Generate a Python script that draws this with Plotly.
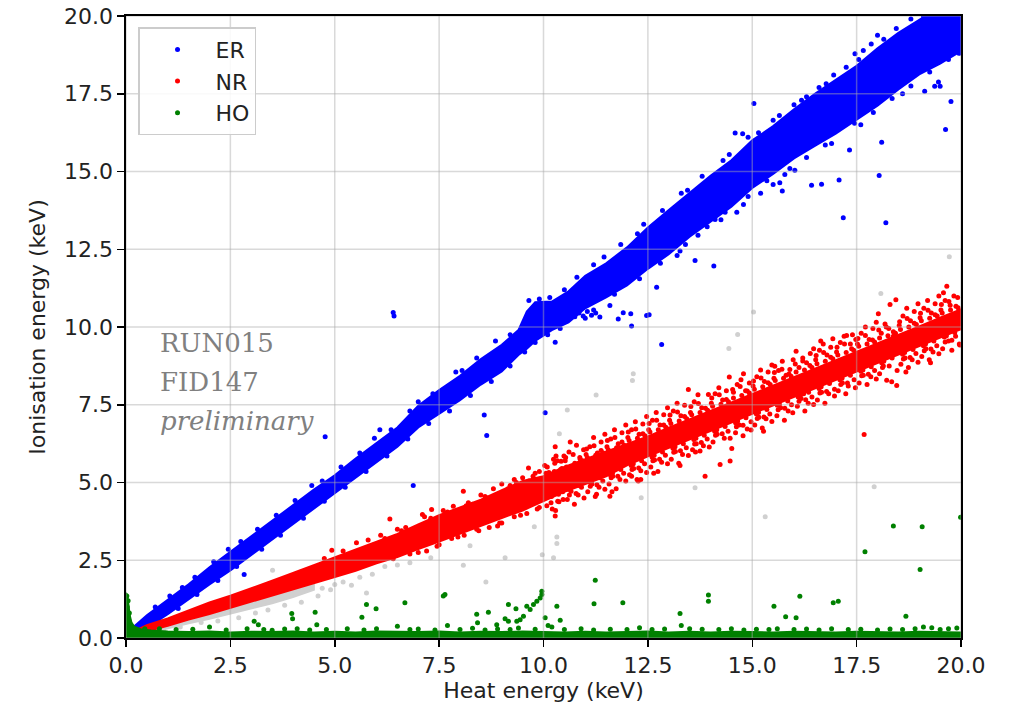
import plotly.graph_objects as go

# ---------------- data ----------------
tick_vals = [0.0, 2.5, 5.0, 7.5, 10.0, 12.5, 15.0, 17.5, 20.0]
tick_text = ["0.0", "2.5", "5.0", "7.5", "10.0", "12.5", "15.0", "17.5", "20.0"]

# dense cores of the populations (x, lower edge, upper edge)
er_band_x = [0.2, 0.5, 1.0, 1.5, 2.0, 2.5, 3.0, 3.5, 4.0, 4.5, 5.0, 5.5, 6.0, 6.5, 7.0, 7.5, 8.0, 8.5,
             9.0, 9.4, 9.6, 9.8, 10.2, 10.6, 11.0, 11.5, 12.0, 12.5, 13.0, 13.5, 14.0, 14.5,
             15.0, 15.5, 16.0, 16.5, 17.0, 17.5, 18.0, 18.5, 19.0, 19.5, 20.0]
er_band_lo = [0.12, 0.33, 0.77, 1.25, 1.72, 2.17, 2.67, 3.15, 3.65, 4.15, 4.67, 5.15, 5.65, 6.15, 6.77,
              7.2, 7.65, 8.15, 8.57, 9.1, 9.3, 9.55, 9.9, 10.15, 10.6, 10.95, 11.34, 11.87, 12.34,
              12.9, 13.37, 13.87, 14.47, 14.92, 15.42, 15.82, 16.22, 16.67, 17.12, 17.64, 18.12,
              18.47, 18.87]
er_band_hi = [0.38, 0.73, 1.23, 1.73, 2.27, 2.77, 3.27, 3.77, 4.27, 4.77, 5.23, 5.77, 6.27, 6.77, 7.47,
              7.97, 8.43, 8.97, 9.43, 9.9, 10.5, 10.8, 10.82, 11.15, 11.65, 12.05, 12.56, 13.2,
              13.76, 14.3, 14.86, 15.36, 16.0, 16.46, 17.0, 17.5, 17.96, 18.4, 18.96, 19.46, 19.88,
              20.28, 20.68]

nr_band_x = [0.2, 0.5, 1.0, 1.5, 2.0, 2.5, 3.0, 3.5, 4.0, 4.5, 5.0, 5.5, 6.0, 6.5, 7.0, 7.5, 8.0, 8.5,
             9.0, 9.5, 10.0, 10.5, 11.0, 11.5, 12.0, 12.5, 13.0, 13.5, 14.0, 14.5, 15.0, 15.5, 16.0,
             16.5, 17.0, 17.5, 18.0, 18.5, 19.0, 19.5, 20.0]
nr_band_lo = [0.1, 0.22, 0.39, 0.59, 0.77, 0.95, 1.16, 1.36, 1.56, 1.76, 1.96, 2.16, 2.4, 2.6, 2.86, 3.1,
              3.36, 3.6, 3.86, 4.1, 4.4, 4.7, 4.95, 5.2, 5.55, 5.84, 6.12, 6.39, 6.66, 6.93, 7.21, 7.48,
              7.75, 8.02, 8.3, 8.57, 8.84, 9.11, 9.38, 9.66, 9.93]
nr_band_hi = [0.22, 0.41, 0.63, 0.88, 1.14, 1.36, 1.59, 1.84, 2.09, 2.34, 2.6, 2.85, 3.1, 3.35, 3.65, 3.95,
              4.2, 4.45, 4.75, 5.05, 5.2, 5.5, 5.75, 6.0, 6.25, 6.48, 6.76, 7.03, 7.3, 7.57, 7.85, 8.12,
              8.39, 8.66, 8.94, 9.21, 9.48, 9.75, 10.02, 10.3, 10.57]

gray_band_x = [0.4, 1.0, 1.5, 2.0, 2.5, 3.0, 3.5, 4.0, 4.5]
gray_band_lo = [0.12, 0.3, 0.47, 0.62, 0.78, 0.95, 1.12, 1.32, 1.55]
gray_band_hi = [0.2, 0.43, 0.62, 0.8, 0.98, 1.18, 1.38, 1.58, 1.8]

ho_band_x = [0.0, 0.0, 0.03, 0.06, 0.09, 0.13, 0.2, 0.35, 0.6, 1.0, 1.5, 2.0, 2.5, 3.0, 3.5, 4.0, 4.5,
             5.0, 5.5, 6.0, 6.5, 7.0, 7.5, 8.0, 8.5, 9.0, 9.5, 10.0, 10.5, 11.0, 11.5, 12.0, 12.5,
             13.0, 13.5, 14.0, 14.5, 15.0, 15.5, 16.0, 16.5, 17.0, 17.5, 18.0, 18.5, 19.0, 19.5, 20.0, 20.0]
ho_band_hi = [0.0, 1.45, 1.38, 1.05, 0.72, 0.5, 0.36, 0.28, 0.24, 0.21, 0.19, 0.21, 0.18, 0.2, 0.19,
              0.21, 0.18, 0.2, 0.18, 0.21, 0.2, 0.19, 0.21, 0.18, 0.2, 0.19, 0.21, 0.2, 0.18, 0.2,
              0.18, 0.19, 0.21, 0.18, 0.2, 0.18, 0.2, 0.19, 0.18, 0.2, 0.19, 0.18, 0.2, 0.19, 0.18,
              0.2, 0.19, 0.18, 0.0]

# individual events
er_points = [
    # upper edge
    (0.7, 1.0), (1.05, 1.35), (1.35, 1.62), (1.65, 1.95), (2.1, 2.45), (2.45, 2.85), (2.75, 3.1),
    (3.15, 3.5), (3.6, 3.95), (4.05, 4.42), (4.45, 4.9), (4.7, 5.05), (5.15, 5.5), (5.6, 5.95),
    (5.95, 6.42), (6.35, 6.7), (6.8, 7.3), (7.0, 7.6), (7.35, 7.85), (7.9, 8.55), (8.05, 8.6),
    (8.4, 9.0), (8.85, 9.55), (9.2, 9.75), (9.65, 10.85), (9.9, 10.9), (10.15, 10.95), (10.5, 11.2),
    (10.8, 11.6), (11.2, 12.0), (11.45, 12.25), (11.85, 12.65), (12.25, 13.0), (12.4, 13.3),
    (12.85, 13.75), (13.3, 14.3), (13.45, 14.4), (13.8, 14.85), (14.3, 15.35), (14.45, 15.55),
    (14.9, 16.1), (15.15, 16.25), (15.5, 16.65), (15.65, 16.8), (16.0, 17.15), (16.3, 17.4),
    (16.6, 17.7), (16.95, 18.1), (17.25, 18.35), (17.55, 18.6), (17.85, 19.1), (18.15, 19.25),
    (18.45, 19.6), (18.8, 19.9), (19.1, 20.0),
    (14.59, 16.24), (14.77, 16.21), (15.04, 17.19), (16.18, 17.29), (16.77, 17.82), (17.46, 18.79),
    (17.66, 18.89), (18.0, 19.38),
    # lower edge
    (0.8, 0.55), (1.25, 0.95), (1.7, 1.4), (2.2, 1.85), (2.65, 2.3), (3.25, 2.85), (3.7, 3.3),
    (4.25, 3.85), (4.75, 4.4), (5.25, 4.85), (5.75, 5.35), (6.25, 5.85), (6.75, 6.4), (7.25, 6.9),
    (7.75, 7.3), (8.25, 7.8), (8.75, 8.25), (9.2, 8.75), (9.55, 9.2), (9.8, 9.5), (10.1, 9.75),
    (10.4, 9.95), (11.7, 11.05), (12.3, 11.55), (12.8, 12.05), (13.4, 12.65), (13.7, 12.95),
    (14.25, 13.45), (14.9, 14.2), (15.35, 14.7), (15.9, 15.1), (16.3, 15.45), (16.75, 15.85),
    (17.45, 16.55), (17.9, 16.9), (18.35, 17.35), (18.8, 17.75), (19.25, 18.2), (19.7, 18.6),
    (19.95, 18.8),
    # 10.37 keV line extension
    (10.55, 10.3), (10.65, 10.42), (10.75, 10.33), (10.85, 10.45), (10.95, 10.35), (11.05, 10.5),
    (11.15, 10.38), (11.25, 10.45), (11.35, 10.32), (11.0, 10.28), (11.2, 10.55), (11.59, 10.69),
    (11.79, 10.26), (11.91, 10.46), (12.09, 10.43), (12.11, 10.03), (12.47, 10.37), (12.53, 10.39),
    # isolated events below the band
    (12.71, 11.28), (13.27, 12.44), (13.63, 12.14), (14.08, 11.96), (13.92, 13.22), (14.11, 13.46),
    (14.35, 13.69), (14.63, 13.69), (14.79, 13.94), (15.5, 14.58), (15.66, 14.64), (15.72, 14.37),
    (15.78, 14.9), (16.02, 15.04), (16.42, 14.56), (16.66, 14.59), (17.08, 14.73), (17.33, 15.69),
    (18.04, 14.87), (18.1, 15.94), (18.2, 13.35), (17.18, 13.51), (19.13, 17.58), (19.37, 17.74),
    (19.46, 17.88), (19.5, 17.74), (19.63, 16.35), (19.76, 17.25), (16.9, 15.9), (17.6, 16.5),
    (18.6, 17.5), (15.2, 14.3), (13.2, 12.3),
    (6.4, 10.47), (6.42, 10.35), (4.77, 6.47), (2.83, 2.04), (6.88, 4.9), (6.08, 6.7), (8.58, 7.17),
    (8.64, 6.51), (10.04, 7.24), (10.28, 9.51), (12.83, 9.44),
]

nr_points = [
    # 5-10 keV edges
    (4.75, 2.56), (4.93, 2.82), (5.2, 2.8), (5.52, 3.06), (5.8, 3.15), (6.1, 3.3), (6.32, 3.83),
    (6.5, 3.5), (6.7, 3.55), (7.1, 3.97), (7.32, 4.13), (7.6, 4.1), (7.84, 4.24), (8.08, 4.72),
    (8.2, 4.35), (8.5, 4.6), (8.8, 4.8), (9.0, 4.95), (9.3, 5.1), (9.64, 5.47), (9.8, 5.3),
    (6.2, 3.2), (6.6, 3.45), (7.3, 3.85), (7.7, 4.05), (8.3, 4.3), (8.6, 4.55), (9.2, 4.9),
    (9.5, 5.15), (9.9, 5.35), (6.4, 2.55), (6.8, 2.7), (7.0, 2.75), (7.2, 2.8), (7.5, 3.0),
    (7.8, 3.2), (8.1, 3.3), (8.4, 3.5), (8.7, 3.55), (8.9, 3.6), (9.0, 3.7), (9.3, 3.9), (9.6, 4.0),
    (9.9, 4.2), (10.28, 6.15), (10.3, 5.85), (10.28, 3.92), (11.59, 4.56), (12.11, 5.2), (12.33, 5.1),
    (7.15, 3.9), (7.45, 2.95), (7.65, 4.0), (7.95, 3.25), (8.15, 4.25), (8.45, 3.45), (8.65, 4.5),
    (8.95, 3.7), (9.15, 4.8), (9.45, 3.95), (9.65, 5.05), (9.85, 4.15), (9.75, 5.2), (9.35, 5.0),
    # 10-20 keV cloud, outer
    (10.03, 5.55), (10.08, 4.25), (10.13, 5.32), (10.19, 4.55), (10.24, 5.75), (10.29, 4.1),
    (10.33, 5.7), (10.37, 4.38), (10.41, 5.42), (10.46, 4.7), (10.49, 5.85), (10.21, 4.15),
    (10.52, 5.7), (10.57, 4.45), (10.61, 5.98), (10.66, 4.72), (10.7, 5.52), (10.74, 4.3),
    (10.79, 6.2), (10.83, 4.6), (10.87, 5.8), (10.91, 4.85), (10.96, 6.05), (10.64, 6.3),
    (11.02, 5.9), (11.06, 4.7), (11.11, 6.15), (11.16, 4.95), (11.2, 6.45), (11.24, 4.55),
    (11.29, 5.95), (11.33, 4.85), (11.38, 6.3), (11.42, 5.05), (11.47, 6.55), (11.27, 4.62),
    (11.52, 6.15), (11.57, 4.95), (11.61, 6.4), (11.66, 5.2), (11.7, 6.7), (11.74, 4.8),
    (11.79, 6.25), (11.83, 5.1), (11.88, 6.6), (11.92, 5.3), (11.97, 6.85), (11.64, 4.7),
    (12.02, 6.45), (12.06, 5.25), (12.11, 6.7), (12.16, 5.45), (12.2, 6.95), (12.24, 5.1),
    (12.29, 6.55), (12.33, 5.38), (12.38, 6.88), (12.42, 5.6), (12.47, 7.12), (12.27, 5.05),
    (12.52, 6.7), (12.57, 5.5), (12.61, 7.0), (12.66, 5.72), (12.7, 7.25), (12.74, 5.35),
    (12.79, 6.85), (12.83, 5.65), (12.88, 7.18), (12.92, 5.88), (12.97, 7.4), (12.64, 5.3),
    (13.02, 7.0), (13.06, 5.75), (13.11, 7.3), (13.16, 6.0), (13.2, 7.55), (13.24, 5.62),
    (13.29, 7.15), (13.33, 5.9), (13.38, 7.48), (13.42, 6.12), (13.47, 7.99), (13.27, 5.55),
    (13.52, 7.25), (13.57, 6.05), (13.61, 7.6), (13.66, 6.25), (13.7, 7.82), (13.75, 6.01),
    (13.79, 7.4), (13.83, 6.18), (13.87, 5.2), (13.92, 6.4), (13.95, 7.83), (13.64, 5.98),
    (14.02, 7.55), (14.06, 6.3), (14.11, 7.85), (14.16, 6.55), (14.2, 8.05), (14.23, 5.58),
    (14.29, 7.65), (14.33, 6.42), (14.38, 7.95), (14.42, 6.65), (14.45, 8.39), (14.47, 5.69),
    (14.51, 6.09), (14.55, 7.9), (14.6, 6.6), (14.64, 8.15), (14.69, 6.85), (14.73, 8.3),
    (14.78, 6.5), (14.79, 8.5), (14.84, 7.95), (14.88, 6.72), (14.93, 8.2), (14.97, 6.95),
    (15.02, 8.1), (15.06, 6.85), (15.11, 8.4), (15.16, 7.1), (15.2, 8.62), (15.24, 6.75),
    (15.29, 8.25), (15.33, 7.05), (15.38, 8.55), (15.42, 7.2), (15.47, 8.78), (15.27, 6.65),
    (15.52, 8.35), (15.54, 8.74), (15.59, 7.15), (15.63, 8.6), (15.68, 7.4), (15.72, 8.9),
    (15.77, 7.0), (15.81, 8.45), (15.86, 7.3), (15.9, 8.63), (15.94, 7.5), (15.98, 8.95),
    (16.05, 9.22), (16.08, 7.45), (16.12, 8.7), (16.17, 7.7), (16.21, 9.0), (16.26, 7.3),
    (16.3, 8.85), (16.34, 7.55), (16.39, 9.15), (16.43, 7.75), (16.47, 9.3), (16.23, 7.85),
    (16.52, 8.95), (16.56, 7.65), (16.61, 9.25), (16.66, 7.9), (16.7, 9.45), (16.74, 7.55),
    (16.79, 9.1), (16.83, 7.85), (16.88, 9.35), (16.93, 9.62), (16.97, 8.0), (16.64, 9.55),
    (17.02, 9.2), (17.06, 7.95), (17.11, 9.5), (17.16, 8.2), (17.2, 9.7), (17.24, 7.85),
    (17.26, 9.73), (17.3, 8.1), (17.35, 9.45), (17.4, 9.75), (17.44, 8.3), (17.48, 9.6),
    (17.52, 9.45), (17.56, 8.2), (17.61, 9.8), (17.66, 8.45), (17.68, 6.54), (17.71, 10.0),
    (17.75, 8.15), (17.8, 9.6), (17.84, 8.4), (17.89, 9.95), (17.93, 8.6), (17.97, 10.15),
    (18.02, 10.43), (18.05, 8.5), (18.09, 9.8), (18.14, 8.75), (18.18, 10.1), (18.22, 8.29),
    (18.27, 9.95), (18.3, 10.72), (18.34, 8.24), (18.38, 9.7), (18.44, 10.88), (18.46, 8.12),
    (18.52, 10.05), (18.56, 8.8), (18.61, 10.35), (18.66, 9.0), (18.7, 10.6), (18.74, 8.7),
    (18.79, 10.2), (18.83, 8.95), (18.88, 10.5), (18.92, 9.15), (18.97, 10.75), (18.68, 8.55),
    (19.02, 10.3), (19.06, 9.05), (19.11, 10.6), (19.16, 9.3), (19.2, 10.85), (19.24, 8.95),
    (19.29, 10.45), (19.33, 9.2), (19.38, 10.75), (19.42, 9.4), (19.47, 11.0), (19.27, 8.85),
    (19.52, 10.55), (19.56, 9.3), (19.58, 11.1), (19.62, 10.85), (19.66, 11.31), (19.7, 9.55),
    (19.74, 10.7), (19.78, 9.25), (19.83, 11.0), (19.87, 9.7), (19.92, 10.95), (19.96, 9.45),
    # 10-20 keV cloud, middle
    (10.09, 5.5), (10.18, 4.35), (10.27, 5.62), (10.34, 4.4), (10.42, 5.68), (10.47, 4.45),
    (10.53, 5.8), (10.62, 4.6), (10.71, 5.9), (10.78, 4.65), (10.88, 5.75), (10.97, 4.5),
    (11.03, 6.08), (11.12, 4.88), (11.21, 6.18), (11.28, 4.93), (11.38, 6.03), (11.47, 4.78),
    (11.53, 6.35), (11.62, 5.15), (11.71, 6.45), (11.78, 5.2), (11.88, 6.3), (11.97, 5.05),
    (12.03, 6.62), (12.12, 5.42), (12.21, 6.72), (12.28, 5.47), (12.38, 6.57), (12.47, 5.32),
    (12.53, 6.9), (12.62, 5.7), (12.71, 7.0), (12.78, 5.75), (12.88, 6.85), (12.97, 5.6),
    (13.03, 7.17), (13.12, 5.97), (13.21, 7.27), (13.28, 6.02), (13.38, 7.12), (13.47, 5.87),
    (13.53, 7.44), (13.62, 6.24), (13.71, 7.54), (13.78, 6.29), (13.88, 7.39), (13.97, 6.14),
    (14.03, 7.72), (14.12, 6.52), (14.21, 7.82), (14.28, 6.57), (14.38, 7.67), (14.47, 6.42),
    (14.53, 7.99), (14.62, 6.79), (14.71, 8.09), (14.78, 6.84), (14.88, 7.94), (14.97, 6.69),
    (15.03, 8.26), (15.12, 7.06), (15.21, 8.36), (15.28, 7.11), (15.38, 8.21), (15.47, 6.96),
    (15.53, 8.54), (15.62, 7.34), (15.71, 8.64), (15.78, 7.39), (15.88, 8.49), (15.97, 7.24),
    (16.03, 8.81), (16.12, 7.61), (16.21, 8.91), (16.28, 7.66), (16.38, 8.76), (16.47, 7.51),
    (16.53, 9.08), (16.62, 7.88), (16.71, 9.18), (16.78, 7.93), (16.88, 9.03), (16.97, 7.78),
    (17.03, 9.35), (17.12, 8.15), (17.21, 9.45), (17.28, 8.2), (17.38, 9.3), (17.47, 8.05),
    (17.53, 9.63), (17.62, 8.43), (17.71, 9.73), (17.78, 8.48), (17.88, 9.58), (17.97, 8.33),
    (18.03, 9.9), (18.12, 8.7), (18.21, 10.0), (18.28, 8.75), (18.38, 9.85), (18.47, 8.6),
    (18.53, 10.17), (18.62, 8.97), (18.71, 10.27), (18.78, 9.02), (18.88, 10.12), (18.97, 8.87),
    (19.03, 10.44), (19.12, 9.24), (19.21, 10.54), (19.28, 9.29), (19.38, 10.39), (19.47, 9.14),
    (19.53, 10.72), (19.62, 9.52), (19.71, 10.82), (19.78, 9.57), (19.88, 10.67), (19.97, 9.42),
    # 10-20 keV cloud, inner
    (10.06, 5.3), (10.16, 4.55), (10.26, 5.35), (10.36, 4.62), (10.44, 5.45), (10.11, 4.6),
    (10.55, 5.5), (10.65, 4.85), (10.75, 5.62), (10.85, 4.9), (10.93, 5.7), (10.6, 4.78),
    (11.05, 5.8), (11.15, 5.05), (11.25, 5.88), (11.35, 5.15), (11.43, 5.95), (11.1, 5.02),
    (11.55, 6.05), (11.65, 5.3), (11.75, 6.12), (11.85, 5.42), (11.93, 6.2), (11.6, 5.25),
    (12.05, 6.35), (12.15, 5.6), (12.25, 6.42), (12.35, 5.7), (12.43, 6.5), (12.1, 5.55),
    (12.55, 6.62), (12.65, 5.88), (12.75, 6.7), (12.85, 5.98), (12.93, 6.78), (12.6, 5.82),
    (13.05, 6.9), (13.15, 6.15), (13.25, 6.98), (13.35, 6.25), (13.43, 7.05), (13.1, 6.1),
    (13.55, 7.18), (13.65, 6.42), (13.75, 7.25), (13.85, 6.52), (13.93, 7.32), (13.6, 6.38),
    (14.05, 7.45), (14.15, 6.7), (14.25, 7.52), (14.35, 6.8), (14.43, 7.6), (14.1, 6.65),
    (14.55, 7.72), (14.65, 6.98), (14.75, 7.8), (14.85, 7.08), (14.93, 7.88), (14.6, 6.92),
    (15.05, 8.0), (15.15, 7.25), (15.25, 8.08), (15.35, 7.35), (15.43, 8.15), (15.1, 7.2),
    (15.55, 8.28), (15.65, 7.52), (15.75, 8.35), (15.85, 7.62), (15.93, 8.42), (15.6, 7.48),
    (16.05, 8.55), (16.15, 7.8), (16.25, 8.62), (16.35, 7.9), (16.43, 8.7), (16.1, 7.75),
    (16.55, 8.82), (16.65, 8.08), (16.75, 8.9), (16.85, 8.18), (16.93, 8.98), (16.6, 8.02),
    (17.05, 9.1), (17.15, 8.35), (17.25, 9.18), (17.35, 8.45), (17.43, 9.25), (17.1, 8.3),
    (17.55, 9.38), (17.65, 8.62), (17.75, 9.45), (17.85, 8.72), (17.93, 9.52), (17.6, 8.58),
    (18.05, 9.65), (18.15, 8.9), (18.25, 9.72), (18.35, 9.0), (18.43, 9.8), (18.1, 8.85),
    (18.55, 9.92), (18.65, 9.18), (18.75, 10.0), (18.85, 9.28), (18.93, 10.08), (18.6, 9.12),
    (19.05, 10.2), (19.15, 9.45), (19.25, 10.28), (19.35, 9.55), (19.43, 10.35), (19.1, 9.4),
    (19.55, 10.45), (19.65, 9.72), (19.75, 10.55), (19.85, 9.82), (19.93, 10.62), (19.6, 9.68),
]

ho_points = [
    (0.02, 1.35), (0.05, 1.2), (0.03, 1.0), (0.08, 0.8), (0.06, 0.6), (0.1, 0.45), (0.12, 0.35),
    (0.45, 0.3), (0.8, 0.3), (1.2, 0.27), (1.6, 0.28), (2.0, 0.35), (2.4, 0.26), (2.9, 0.3),
    (3.3, 0.27), (3.5, 0.25), (3.8, 0.29), (4.1, 0.3), (4.4, 0.26), (4.8, 0.27), (5.3, 0.3),
    (5.7, 0.26), (6.0, 0.3), (6.5, 0.38), (6.8, 0.27), (7.0, 0.29), (7.4, 0.26), (7.7, 0.4),
    (8.0, 0.27), (8.3, 0.31), (8.6, 0.26), (8.9, 0.29), (9.2, 0.27), (9.4, 0.32), (9.8, 0.28),
    (10.2, 0.35), (10.5, 0.27), (10.9, 0.3), (11.2, 0.26), (11.6, 0.28), (12.0, 0.27), (12.3, 0.33),
    (12.6, 0.27), (12.9, 0.29), (13.3, 0.4), (13.5, 0.3), (13.8, 0.28), (14.2, 0.27), (14.5, 0.3),
    (14.8, 0.26), (15.1, 0.28), (15.4, 0.27), (15.6, 0.3), (16.0, 0.27), (16.3, 0.29), (16.6, 0.26),
    (16.9, 0.3), (17.3, 0.27), (17.6, 0.28), (18.0, 0.26), (18.3, 0.29), (18.6, 0.27), (18.9, 0.3),
    (19.1, 0.35), (19.3, 0.33), (19.5, 0.27), (19.7, 0.3), (19.9, 0.32),
    (3.07, 0.54), (3.17, 0.43), (3.97, 0.79), (3.99, 0.62), (4.53, 0.83), (4.57, 0.43), (5.65, 0.67),
    (5.76, 1.08), (5.99, 0.94), (6.68, 1.13), (7.6, 1.35), (7.64, 1.4), (8.4, 0.76), (8.42, 0.49),
    (8.68, 0.83), (8.88, 0.43), (9.08, 0.62), (9.16, 0.54), (9.16, 1.08), (9.34, 0.94), (9.36, 0.54),
    (9.44, 0.59), (9.52, 0.7), (9.6, 1.02), (9.68, 0.92), (9.76, 1.08), (9.84, 1.18), (9.92, 1.29),
    (9.96, 1.4), (9.96, 1.5), (10.04, 0.65), (10.11, 0.4), (10.32, 1.02), (10.4, 0.57),
    (11.21, 1.1), (11.24, 1.86), (11.9, 1.13), (13.27, 0.79), (13.95, 1.18), (13.95, 1.38),
    (15.52, 1.02), (15.8, 0.68), (16.05, 0.65), (16.14, 1.34), (16.94, 1.13), (17.06, 1.18),
    (17.7, 2.77), (18.68, 0.7), (19.02, 2.2), (18.38, 3.6), (19.07, 3.58), (19.99, 3.88),
]

gray_points = [
    (0.9, 0.25), (1.3, 0.35), (1.8, 0.5), (2.2, 0.55), (2.7, 0.65), (3.1, 0.8), (3.4, 0.9), (3.8, 1.05),
    (4.2, 1.15), (4.6, 1.35), (4.7, 1.6), (4.9, 1.55), (5.0, 1.72), (5.2, 1.8), (5.4, 1.7),
    (5.6, 1.95), (5.76, 1.45), (5.9, 2.05), (6.2, 2.3), (6.5, 2.35), (6.8, 2.42), (3.51, 2.18),
    (2.9, 1.45), (4.3, 1.9), (7.3, 2.58), (8.08, 2.34), (8.62, 1.8), (9.08, 2.58), (9.97, 2.68),
    (10.24, 2.58), (10.32, 3.25), (10.32, 3.04), (9.78, 3.58), (8.24, 2.97), (12.34, 4.51),
    (13.63, 4.83), (17.92, 4.86), (15.31, 3.9), (10.38, 6.57), (10.57, 7.33), (11.26, 7.81),
    (12.13, 8.28), (12.15, 8.5), (14.44, 9.31), (14.65, 9.76), (15.03, 10.48), (18.08, 11.08),
    (19.72, 12.26),
]

labels_text = ["RUN015", "FID147", "<i>preliminary</i>"]
labels_x = [0.77, 0.77, 0.77]
labels_y = [9.5, 8.24, 6.99]

# ---------------- styling ----------------
C_ER, C_NR, C_HO, C_GR = "#0000ff", "#ff0000", "#008000", "#d0d0d0"
MS = 5
FONT = "DejaVu Sans"


def band_trace(x, lo, hi, color):
    return go.Scatter(x=list(x) + list(x)[::-1], y=list(hi) + list(lo)[::-1], mode="lines",
                      fill="toself", fillcolor=color, line=dict(color=color, width=2),
                      hoverinfo="skip", showlegend=False)


def pts(points, name, color, legend=True):
    return go.Scatter(x=[p[0] for p in points], y=[p[1] for p in points], mode="markers",
                      name=name, legendgroup=name, showlegend=legend,
                      marker=dict(color=color, size=MS, line=dict(width=0)))


fig = go.Figure()
fig.add_trace(band_trace(gray_band_x, gray_band_lo, gray_band_hi, C_GR))
fig.add_trace(pts(gray_points, "all", C_GR, legend=False))
fig.add_trace(band_trace(er_band_x, er_band_lo, er_band_hi, C_ER))
fig.add_trace(pts(er_points, "ER", C_ER))
fig.add_trace(band_trace(nr_band_x, nr_band_lo, nr_band_hi, C_NR))
fig.add_trace(pts(nr_points, "NR", C_NR))
fig.add_trace(band_trace(ho_band_x, [0.0] * len(ho_band_x), ho_band_hi, C_HO))
fig.add_trace(pts(ho_points, "HO", C_HO))

grid_line = dict(color="rgba(170,170,170,0.45)", width=1.5)
for v in tick_vals:
    fig.add_shape(type="line", xref="x", yref="paper", x0=v, x1=v, y0=0, y1=1, line=grid_line,
                  layer="above")
    fig.add_shape(type="line", xref="paper", yref="y", x0=0, x1=1, y0=v, y1=v, line=grid_line,
                  layer="above")

for t, x, y in zip(labels_text, labels_x, labels_y):
    fig.add_annotation(x=x, y=y, text=t, showarrow=False, xanchor="left", yanchor="middle",
                       font=dict(family="DejaVu Serif", size=26, color="#808080"))

axis_common = dict(range=[0, 20], tickmode="array", tickvals=tick_vals, ticktext=tick_text,
                   showgrid=False, zeroline=False, showline=True, linecolor="black", linewidth=1.6,
                   mirror=True, ticks="outside", ticklen=7, tickwidth=1.5, tickcolor="black",
                   automargin=False, ticklabeloverflow="allow",
                   tickfont=dict(family=FONT, size=22, color="#222222"))

fig.update_layout(
    width=1015, height=713,
    margin=dict(l=126, r=54, t=16, b=75),
    paper_bgcolor="white", plot_bgcolor="white",
    showlegend=True,
    legend=dict(x=0.0144, y=0.982, xanchor="left", yanchor="top", bgcolor="rgba(255,255,255,0.85)",
                bordercolor="#cccccc", borderwidth=1.5, font=dict(family=FONT, size=22, color="#222222"),
                itemwidth=66, tracegroupgap=8, traceorder="normal"),
    xaxis=dict(title=dict(text="Heat energy (keV)", font=dict(family=FONT, size=22, color="#222222"),
                          standoff=5), **axis_common),
    yaxis=dict(title=dict(text="Ionisation energy (keV)", font=dict(family=FONT, size=22, color="#222222"),
                          standoff=12), **axis_common),
)

# remove the default 8 px page margin so the figure fills the window exactly
fig.write_html("out.html",
               config={"displayModeBar": False, "staticPlot": True},
               post_script="document.body.style.margin='0';document.body.style.overflow='hidden';")
